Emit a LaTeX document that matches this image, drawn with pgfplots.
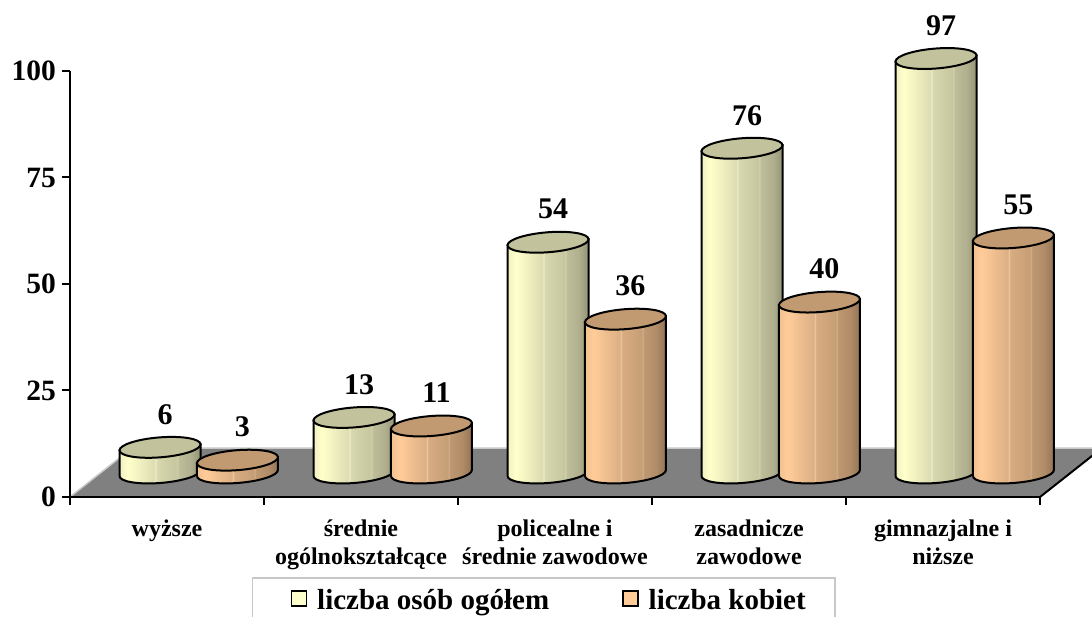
\documentclass[border=0pt]{standalone}
\usepackage{fontspec}
\setmainfont{Liberation Serif}
\usepackage{pgfplots}
\pgfplotsset{compat=1.18}
\usepackage{pgfplotstable}

\definecolor{topY}{HTML}{C2C29C}
\definecolor{topO}{HTML}{C29A72}
\definecolor{floorgray}{HTML}{808080}
\definecolor{edgegray}{HTML}{C8C8C8}
\definecolor{swatchY}{HTML}{FFFFCC}
\definecolor{swatchO}{HTML}{FFCC99}

% tikz fits 25bp..75bp of a shading to the width of the path
\pgfdeclarehorizontalshading{cylYs}{100bp}{
  rgb(0bp)=(.94,.94,.76); rgb(25bp)=(.94,.94,.76); rgb(30bp)=(1,1,.8); rgb(33bp)=(.98,.98,.78); rgb(39bp)=(.925,.925,.745);
  rgb(46.5bp)=(.863,.863,.698); rgb(47.2bp)=(.933,.933,.816); rgb(48bp)=(.847,.847,.682); rgb(60bp)=(.776,.776,.627);
  rgb(60.7bp)=(.824,.824,.69); rgb(61.5bp)=(.745,.745,.604); rgb(69bp)=(.69,.69,.557); rgb(75bp)=(.58,.58,.47); rgb(100bp)=(.58,.58,.47)}
\pgfdeclarehorizontalshading{cylOs}{100bp}{
  rgb(0bp)=(.94,.753,.565); rgb(25bp)=(.94,.753,.565); rgb(30bp)=(1,.8,.6); rgb(33bp)=(.98,.784,.588); rgb(39bp)=(.925,.737,.557);
  rgb(46.5bp)=(.863,.69,.518); rgb(47.2bp)=(.933,.784,.627); rgb(48bp)=(.847,.675,.51); rgb(60bp)=(.776,.62,.463);
  rgb(60.7bp)=(.824,.675,.533); rgb(61.5bp)=(.745,.596,.439); rgb(69bp)=(.69,.549,.408); rgb(75bp)=(.58,.459,.345); rgb(100bp)=(.58,.459,.345)}

% one cylinder, origin at the middle of its top face; \val comes from the data
% the faces are slanted: left end 3pt low, right end 3pt high
\newcommand\drawcyl[2]{%
  \pgfmathsetmacro\hh{4.273*\val}%
  \pgfmathsetmacro\ya{-3-\hh}\pgfmathsetmacro\yb{-8.52-\hh}\pgfmathsetmacro\yc{-11.66-\hh}%
  \pgfmathsetmacro\yd{-10-\hh}\pgfmathsetmacro\ye{-8.34-\hh}\pgfmathsetmacro\yf{-2.52-\hh}\pgfmathsetmacro\yg{3-\hh}%
  \shadedraw[shading=#1, draw=black, line width=2pt] (-40.5pt,-3pt) -- (-40.5pt,\ya pt)
    .. controls (-40.5pt,\yb pt) and (-22.4pt,\yc pt) .. (0pt,\yd pt)
    .. controls (22.4pt,\ye pt) and (40.5pt,\yf pt) .. (40.5pt,\yg pt) -- (40.5pt,3pt) -- cycle;
  \filldraw[fill=#2, draw=black, line width=2pt] (40.5pt,3pt)
    .. controls (40.5pt,8.52pt) and (22.4pt,11.66pt) .. (0pt,10pt)
    .. controls (-22.4pt,8.34pt) and (-40.5pt,2.52pt) .. (-40.5pt,-3pt)
    .. controls (-40.5pt,-8.52pt) and (-22.4pt,-11.66pt) .. (0pt,-10pt)
    .. controls (22.4pt,-8.34pt) and (40.5pt,-2.52pt) .. (40.5pt,3pt) -- cycle;}
\pgfdeclareplotmark{cylY}{\drawcyl{cylYs}{topY}}
\pgfdeclareplotmark{cylO}{\drawcyl{cylOs}{topO}}

\pgfplotstableread{
i ogolem kobiety
0 6 3
1 13 11
2 54 36
3 76 40
4 97 55
}\edudata

\begin{document}
\begin{tikzpicture}[x=1pt,y=1pt]
\useasboundingbox (0pt,0pt) rectangle (1092pt,617pt);
\begin{axis}[
  at={(70pt,120pt)}, anchor=south west,
  scale only axis, width=970pt, height=426pt,
  xmin=0, xmax=5, ymin=0, ymax=100,
  clip=false, axis on top,
  axis x line*=bottom, axis y line*=left,
  axis line style={black, line width=2pt, -},
  /pgf/number format/assume math mode=true,
  tick align=outside, major tick length=8pt, minor tick length=8pt,
  ytick={0,25,50,75,100},
  xtick={0.5,1.5,2.5,3.5,4.5},
  minor xtick={0,1,2,3,4,5},
  major x tick style={draw=none},
  minor x tick style={black, line width=2pt},
  ytick style={black, line width=2pt},
  xticklabels={wyższe,{średnie\\ogólnokształcące},{policealne i\\średnie zawodowe},{zasadnicze\\zawodowe},{gimnazjalne i\\niższe}},
  xticklabel style={font=\fontsize{24}{28}\selectfont\bfseries, align=center, anchor=north, yshift=-11pt},
  yticklabel style={font=\fontsize{29.5}{30}\selectfont\bfseries, inner sep=0pt, xshift=-6pt},
  legend style={
    at={(0.1876,-0.1878)}, anchor=north west,
    draw=edgegray, line width=1.5pt, inner xsep=29pt, inner ysep=12pt,
    font=\fontsize{29}{30}\selectfont\bfseries,
    nodes={inner sep=0pt, anchor=base west},
    /tikz/every even column/.append style={column sep=64pt},
    /tikz/every odd column/.append style={column sep=10pt},
  },
  legend columns=2,
]
\addplot[forget plot, fill=floorgray, draw=none] coordinates {(0,0)(5,0)(5.32,11.5)(0.32,11.5)} -- cycle;
\addplot[forget plot, edgegray, line width=1.5pt] coordinates {(0,0)(0.32,11.5)(5.32,11.5)};
\addplot[forget plot, black, line width=2pt] coordinates {(5,0)(5.32,11.5)};
\addlegendimage{legend image code/.code={\path (0pt,0pt); \draw[fill=swatchY, draw=black, line width=1.5pt] (9pt,4pt) rectangle (24pt,19pt);}}
\addlegendentry{liczba osób ogółem}
\addlegendimage{legend image code/.code={\path (0pt,0pt); \draw[fill=swatchO, draw=black, line width=1.5pt] (9pt,4pt) rectangle (24pt,19pt);}}
\addlegendentry{liczba kobiet}
\end{axis}
\begin{axis}[
  at={(70pt,144pt)}, anchor=south west,
  scale only axis, width=970pt, height=427.3pt,
  xmin=0, xmax=5, ymin=0, ymax=100,
  clip=false, hide axis,
  /pgf/number format/assume math mode=true,
  point meta=y,
  nodes near coords,
  every node near coord/.append style={font=\fontsize{30}{30}\selectfont\bfseries, anchor=center, xshift=5pt, yshift=33pt, text=black},
]
\addplot[scatter, only marks, mark=cylY, visualization depends on={rawy \as \val}]
  table[x expr=\thisrow{i}+0.464, y=ogolem] {\edudata};
\addplot[scatter, only marks, mark=cylO, visualization depends on={rawy \as \val}]
  table[x expr=\thisrow{i}+0.863, y=kobiety] {\edudata};
\end{axis}
\end{tikzpicture}
\end{document}
